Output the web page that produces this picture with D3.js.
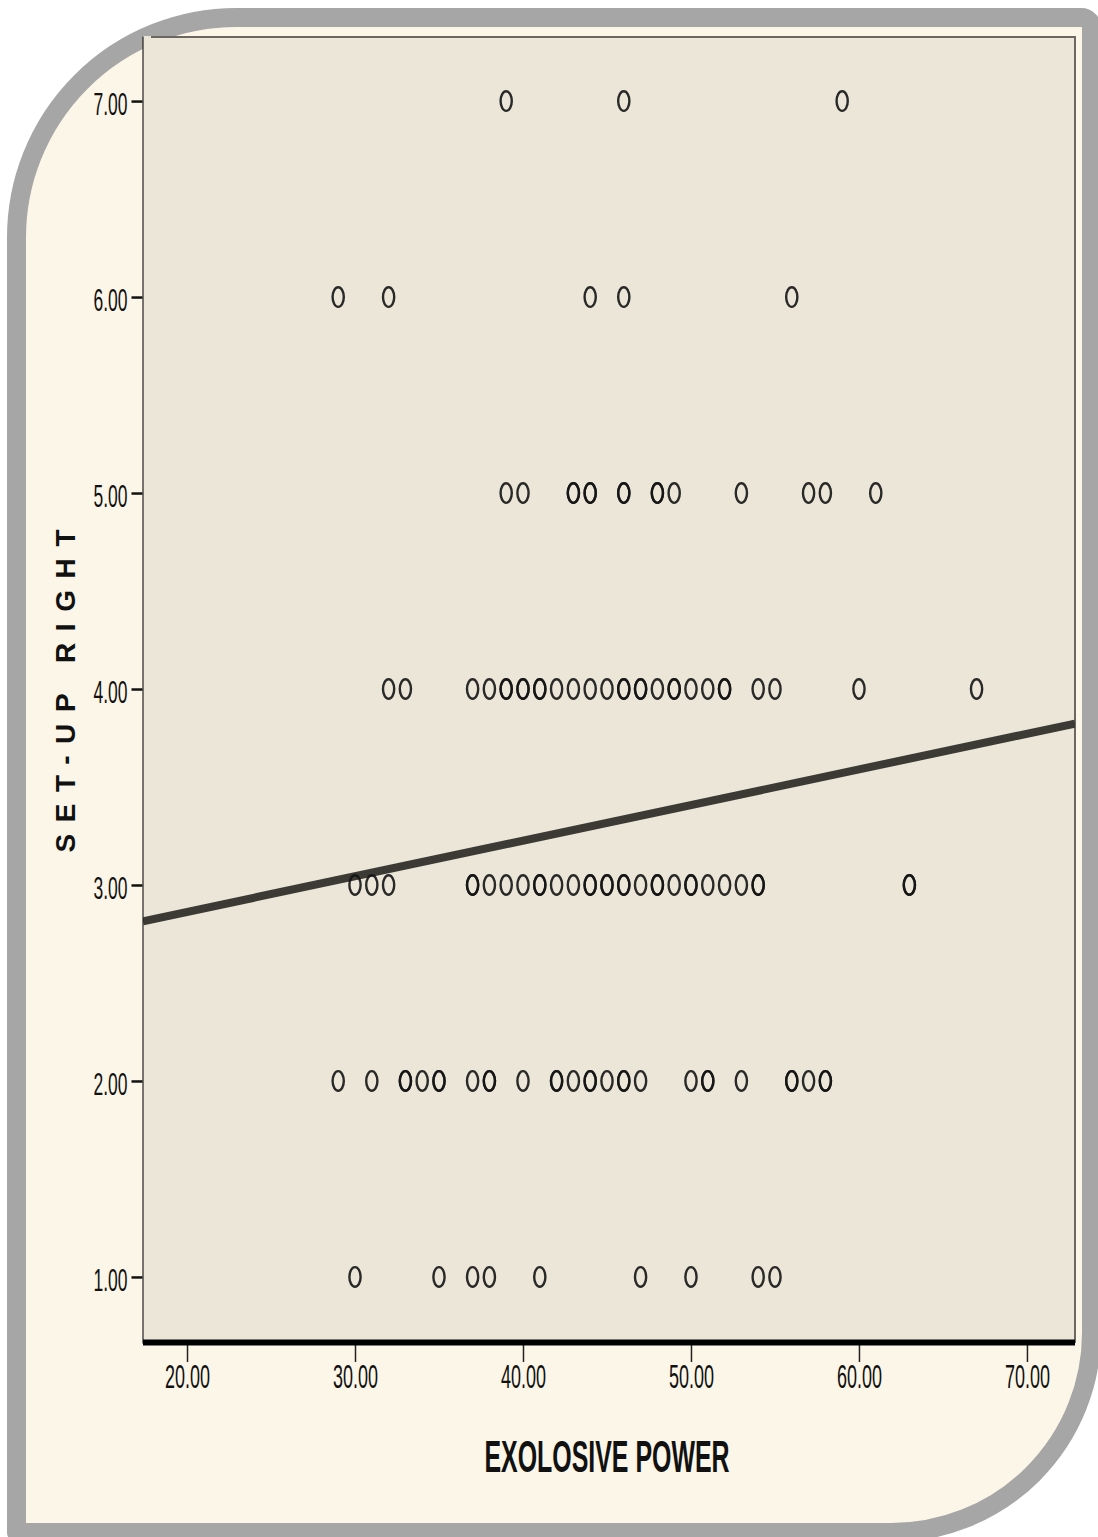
<!DOCTYPE html>
<html>
<head>
<meta charset="utf-8">
<script src="https://cdn.jsdelivr.net/npm/d3@7"></script>
<style>
  html, body { margin: 0; padding: 0; background: #ffffff; }
  svg { display: block; }
</style>
</head>
<body>
<svg id="chart" width="1098" height="1537"></svg>
<script>
// ---- Data ----
const xTicks = [20, 30, 40, 50, 60, 70];
const yTicks = [1, 2, 3, 4, 5, 6, 7];
const xTitle = "EXOLOSIVE POWER";
const yTitle = "SET-UP RIGHT";

// EXPLOSIVE POWER values observed at each SET-UP RIGHT level (repeats = overlapping cases)
const pointsY1 = [30, 35, 37, 38, 41, 47, 50, 54, 55];
const pointsY2 = [29, 31, 33, 33, 34, 35, 35, 37, 38, 38, 40, 42, 42, 43, 44, 44, 45, 46, 46, 47, 50, 51, 51, 53, 56, 56, 57, 58, 58];
const pointsY3 = [30, 31, 32, 37, 37, 38, 39, 40, 41, 41, 42, 43, 44, 44, 45, 45, 46, 46, 47, 48, 48, 49, 50, 50, 51, 52, 53, 54, 54, 63, 63];
const pointsY4 = [32, 33, 37, 38, 39, 39, 40, 40, 41, 41, 42, 43, 44, 45, 46, 46, 47, 47, 48, 49, 49, 50, 51, 52, 52, 54, 55, 60, 67];
const pointsY5 = [39, 40, 43, 43, 44, 44, 46, 46, 48, 48, 49, 53, 57, 58, 61];
const pointsY6 = [29, 32, 44, 46, 56];
const pointsY7 = [39, 46, 59];

// Fit line: intercept, slope
const fitLine = [2.499, 0.01818];

// Axis extents
const xDomain = [17.38, 72.86];
const yDomain = [0.663, 7.332];

// ---- Build ----
const svg = d3.select("#chart");

// Frame: cream panel with grey rounded border
const sw = 19;
const L = 7 + sw / 2, T = 8 + sw / 2, B = 1523 + sw / 2;
const right = 1091.5;
const rTL = 220, rTR = 10, rBR = 200;
const framePath = [
  `M ${L} ${B}`,
  `L ${L} ${T + rTL}`,
  `A ${rTL} ${rTL} 0 0 1 ${L + rTL} ${T}`,
  `L ${right - rTR} ${T}`,
  `A ${rTR} ${rTR} 0 0 1 ${right} ${T + rTR}`,
  `L ${right} ${B - rBR}`,
  `A ${rBR} ${rBR} 0 0 1 ${right - rBR} ${B}`,
  `Z`
].join(" ");
svg.append("path")
  .attr("d", framePath)
  .attr("fill", "#fcf6e8")
  .attr("stroke", "#a6a6a6")
  .attr("stroke-width", sw)
  .attr("stroke-linejoin", "round");

// Plot area
const plot = { left: 143, right: 1075, top: 36, bottom: 1343 };
const x = d3.scaleLinear().domain(xDomain).range([plot.left, plot.right]);
const y = d3.scaleLinear().domain(yDomain).range([plot.bottom, plot.top]);

svg.append("rect")
  .attr("x", plot.left).attr("y", plot.top)
  .attr("width", plot.right - plot.left).attr("height", plot.bottom - plot.top)
  .attr("fill", "#ece6d9");

// top & right borders
svg.append("line")
  .attr("x1", plot.left + 8).attr("x2", plot.right + 1)
  .attr("y1", plot.top + 1).attr("y2", plot.top + 1)
  .attr("stroke", "#6a6860").attr("stroke-width", 2);
svg.append("line")
  .attr("x1", plot.right).attr("x2", plot.right)
  .attr("y1", plot.top).attr("y2", plot.bottom)
  .attr("stroke", "#6a6860").attr("stroke-width", 2);

// clip for points / line
svg.append("clipPath").attr("id", "clip")
  .append("rect")
  .attr("x", plot.left).attr("y", plot.top)
  .attr("width", plot.right - plot.left).attr("height", plot.bottom - plot.top);

const g = svg.append("g").attr("clip-path", "url(#clip)");

// Regression line
const lineData = xDomain.map(v => [v, fitLine[0] + fitLine[1] * v]);
g.append("path")
  .attr("d", d3.line().x(d => x(d[0])).y(d => y(d[1]))(lineData))
  .attr("stroke", "#3b3a34")
  .attr("stroke-width", 8)
  .attr("fill", "none");

// Points
const rows = [pointsY1, pointsY2, pointsY3, pointsY4, pointsY5, pointsY6, pointsY7];
const pts = [];
rows.forEach((arr, i) => arr.forEach(v => pts.push({ x: v, y: yTicks[i] })));
g.selectAll("ellipse.pt").data(pts).enter().append("ellipse")
  .attr("class", "pt")
  .attr("cx", d => x(d.x))
  .attr("cy", d => y(d.y))
  .attr("rx", 5.6)
  .attr("ry", 9.8)
  .attr("fill", "none")
  .attr("stroke", "#141414")
  .attr("stroke-opacity", 0.9)
  .attr("stroke-width", 2.4);

// Y axis
const yAxis = d3.axisLeft(y).tickValues(yTicks).tickFormat(d3.format(".2f"))
  .tickSizeInner(11).tickSizeOuter(0).tickPadding(4);
const yg = svg.append("g").attr("transform", `translate(${plot.left - 0.5},0)`).call(yAxis);
yg.select(".domain").attr("stroke", "#222").attr("stroke-width", 1.2);
yg.selectAll(".tick line").attr("stroke", "#111").attr("stroke-width", 2.5);
yg.selectAll(".tick text")
  .attr("font-family", "Liberation Sans, Arial, sans-serif")
  .attr("font-size", 32)
  .attr("fill", "#111")
  .attr("dy", "0.42em")
  .attr("textLength", 34)
  .attr("lengthAdjust", "spacingAndGlyphs");

// X axis
const xAxis = d3.axisBottom(x).tickValues(xTicks).tickFormat(d3.format(".2f"))
  .tickSizeInner(20).tickSizeOuter(0).tickPadding(6);
const xg = svg.append("g").attr("transform", `translate(0,${plot.bottom - 1})`).call(xAxis);
xg.select(".domain").remove();
xg.append("line")
  .attr("x1", plot.left).attr("x2", plot.right)
  .attr("y1", 0.5).attr("y2", 0.5)
  .attr("stroke", "#000").attr("stroke-width", 6);
xg.selectAll(".tick line").attr("stroke", "#222").attr("stroke-width", 1.5);
xg.selectAll(".tick text")
  .attr("font-family", "Liberation Sans, Arial, sans-serif")
  .attr("font-size", 33)
  .attr("fill", "#111")
  .attr("dy", "0.62em")
  .attr("textLength", 45)
  .attr("lengthAdjust", "spacingAndGlyphs");

// Titles
svg.append("text")
  .attr("x", 607).attr("y", 1472)
  .attr("text-anchor", "middle")
  .attr("font-family", "Liberation Sans, Arial, sans-serif")
  .attr("font-weight", "bold")
  .attr("font-size", 44)
  .attr("fill", "#111")
  .attr("textLength", 245)
  .attr("lengthAdjust", "spacingAndGlyphs")
  .text(xTitle);

svg.append("text")
  .attr("transform", "translate(75,691) rotate(-90)")
  .attr("text-anchor", "middle")
  .attr("font-family", "Liberation Sans, Arial, sans-serif")
  .attr("font-weight", "bold")
  .attr("font-size", 28)
  .attr("fill", "#111")
  .attr("textLength", 323)
  .attr("lengthAdjust", "spacing")
  .text(yTitle);
</script>
</body>
</html>
